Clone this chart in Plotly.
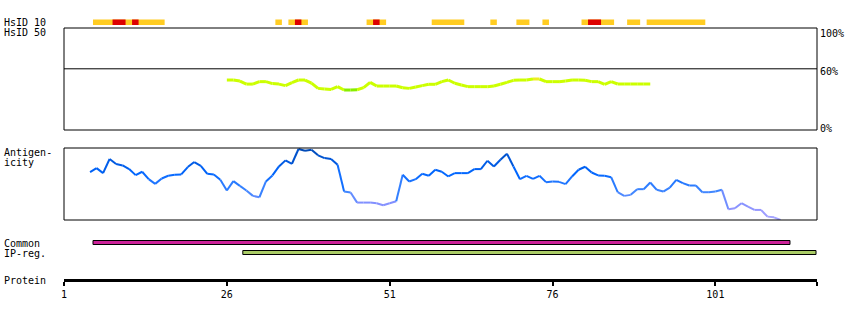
import plotly.graph_objects as go

# ---------------- data ----------------
# HsID 10 track (residue ranges, inclusive)
hsid10_yellow = [(6, 16), (34, 34), (36, 38), (48, 50), (58, 62), (67, 67),
                 (71, 72), (75, 75), (81, 85), (88, 89), (91, 99)]
hsid10_red = [(9, 10), (12, 12), (37, 37), (49, 49), (82, 83)]

# HsID 50 identity (%) for residues 26..91
ident_residues = list(range(26, 92))
ident_values = [49, 49, 48, 45, 45, 47.4, 47.4, 45.5, 45, 43.5, 46.5, 49, 49, 46,
                40.8, 40.2, 39.8, 42.5, 39.2, 39.2, 39.5, 41.5, 46.7, 43.1, 43.1,
                43.1, 43.1, 41.5, 40.8, 42.2, 43.5, 44.8, 44.8, 47.4, 49, 45.8,
                44.1, 42.5, 42.5, 42.5, 42.5, 43.1, 44.8, 46.7, 48.7, 49, 49, 50,
                50, 47.4, 47.4, 47.4, 48, 49, 49, 48.7, 47.4, 47.4, 44.8, 47.4,
                45.1, 45.1, 45.1, 45.1, 45.1, 45.1]

# Antigenicity (relative scale 0-100) for residues 5..111
antigen_residues = list(range(5, 112))
antigen_values = [66.5, 72.1, 65.1, 84.7, 77.7, 75.8, 70.7, 62.3, 67.0, 56.7,
                  50.2, 57.7, 61.4, 62.8, 63.3, 73.5, 80.5, 75.3, 64.2, 63.3,
                  55.8, 40.9, 54.0, 47.4, 40.9, 33.5, 31.6, 53.5, 61.9, 74.4,
                  82.8, 78.1, 98.6, 96.3, 97.7, 89.8, 86.0, 84.7, 76.7, 39.5,
                  38.1, 24.2, 24.2, 24.2, 23.3, 20.5, 23.3, 26.0, 62.8, 53.5,
                  56.7, 64.2, 61.4, 69.8, 67.0, 60.5, 65.1, 65.1, 65.1, 70.7,
                  70.7, 82.3, 74.4, 83.7, 92.1, 74.4, 56.7, 61.4, 57.2, 61.4,
                  52.6, 53.5, 53.0, 49.8, 60.5, 69.8, 74.0, 66.0, 61.9, 61.4,
                  59.5, 38.6, 33.5, 34.9, 42.8, 42.8, 52.1, 41.9, 39.5, 45.1,
                  55.8, 51.2, 47.9, 47.9, 38.6, 38.6, 39.5, 41.9, 14.9, 16.3,
                  23.3, 18.6, 14.0, 14.0, 4.7, 3.7, 0.0]

common_range = (6, 112)
ipreg_range = (29, 116)

protein_end = 116.6
tick_vals = [1, 26, 51, 76, 101, protein_end]
tick_text = ["1", "26", "51", "76", "101", ""]

# ---------------- style helpers ----------------
W, H = 850, 320
FONT = "DejaVu Sans Mono"


def py(p):
    return 1 - p / H


def hexrgb(h):
    h = h.lstrip('#')
    return tuple(int(h[i:i + 2], 16) for i in (0, 2, 4))


ant_stops = [(0, "#aaaaff"), (12, "#9999ff"), (25, "#7f8fff"), (38, "#4488ff"),
             (52, "#2277ff"), (65, "#0066ff"), (82, "#0058dd"), (100, "#0048b0")]


def ant_color(v):
    for (a, ca), (b, cb) in zip(ant_stops[:-1], ant_stops[1:]):
        if v <= b:
            t = (v - a) / (b - a) if b > a else 0
            ra, rb = hexrgb(ca), hexrgb(cb)
            c = [round(x + (y - x) * t) for x, y in zip(ra, rb)]
            return "rgb(%d,%d,%d)" % tuple(c)
    return ant_stops[-1][1]


def ident_color(v):
    if v < 40.0:
        return "#88ee00"
    if v >= 49.9:
        return "#eeee22"
    return "#ccff00"


fig = go.Figure()

# identity line segments
for i in range(len(ident_residues) - 1):
    v = (ident_values[i] + ident_values[i + 1]) / 2
    fig.add_trace(go.Scatter(x=ident_residues[i:i + 2], y=ident_values[i:i + 2],
                             mode="lines", line=dict(color=ident_color(v), width=3),
                             hoverinfo="skip", showlegend=False, yaxis="y"))

# antigenicity line segments
for i in range(len(antigen_residues) - 1):
    v = (antigen_values[i] + antigen_values[i + 1]) / 2
    fig.add_trace(go.Scatter(x=antigen_residues[i:i + 2], y=antigen_values[i:i + 2],
                             mode="lines", line=dict(color=ant_color(v), width=2),
                             hoverinfo="skip", showlegend=False, yaxis="y2"))

shapes = []
# panel boxes
shapes.append(dict(type="rect", xref="paper", x0=0, x1=1, yref="y domain", y0=0, y1=1,
                   line=dict(color="black", width=1)))
shapes.append(dict(type="line", xref="paper", x0=0, x1=1, yref="y", y0=60, y1=60,
                   line=dict(color="black", width=1)))
shapes.append(dict(type="rect", xref="paper", x0=0, x1=1, yref="y2 domain", y0=0, y1=1,
                   line=dict(color="black", width=1)))

# HsID 10 track
for s, e in hsid10_yellow:
    shapes.append(dict(type="rect", xref="x", x0=s - 0.55, x1=e + 0.45, yref="paper",
                       y0=py(25), y1=py(19.5), fillcolor="#ffcc22", line=dict(width=0)))
for s, e in hsid10_red:
    shapes.append(dict(type="rect", xref="x", x0=s - 0.55, x1=e + 0.45, yref="paper",
                       y0=py(25), y1=py(19.5), fillcolor="#dd0000", line=dict(width=0)))

# Common / IP-reg bars
shapes.append(dict(type="rect", xref="x", x0=common_range[0] - 0.55, x1=common_range[1] + 0.45,
                   yref="paper", y0=py(244.5), y1=py(240.5), fillcolor="#cc2299",
                   line=dict(color="black", width=1)))
shapes.append(dict(type="rect", xref="x", x0=ipreg_range[0] - 0.55, x1=ipreg_range[1] + 0.45,
                   yref="paper", y0=py(254.5), y1=py(250.5), fillcolor="#aacc66",
                   line=dict(color="black", width=1)))

annotations = []
left_labels = [("HsID 10", 22.5), ("HsID 50", 32.5), ("Antigen-", 152.5), ("icity", 162.5),
               ("Common", 243), ("IP-reg.", 253), ("Protein", 280)]
for txt, ypx in left_labels:
    annotations.append(dict(text=txt, xref="paper", x=0, xshift=-62, xanchor="left",
                            yref="paper", y=py(ypx), yanchor="middle", showarrow=False,
                            font=dict(family=FONT, size=10, color="black")))
right_labels = [("100%", 33), ("60%", 71.5), ("0%", 128.5)]
for txt, ypx in right_labels:
    annotations.append(dict(text=txt, xref="paper", x=1, xshift=1, xanchor="left",
                            yref="paper", y=py(ypx), yanchor="middle", showarrow=False,
                            font=dict(family=FONT, size=10, color="black")))

fig.update_layout(
    width=W, height=H,
    margin=dict(l=64, r=33, t=0, b=0),
    plot_bgcolor="white", paper_bgcolor="white",
    showlegend=False,
    xaxis=dict(range=[1, protein_end], anchor="free", position=py(280),
               showline=True, linecolor="black", linewidth=3,
               ticks="outside", ticklen=4, tickwidth=2, tickcolor="black",
               tickvals=tick_vals, ticktext=tick_text, showgrid=False, zeroline=False,
               tickfont=dict(family=FONT, size=10, color="black")),
    yaxis=dict(domain=[py(130), py(28)], range=[0, 100], visible=False, anchor="x"),
    yaxis2=dict(domain=[py(220), py(148)], range=[0, 100], visible=False, anchor="x"),
    shapes=shapes,
    annotations=annotations,
)

fig.write_html("out.html")
